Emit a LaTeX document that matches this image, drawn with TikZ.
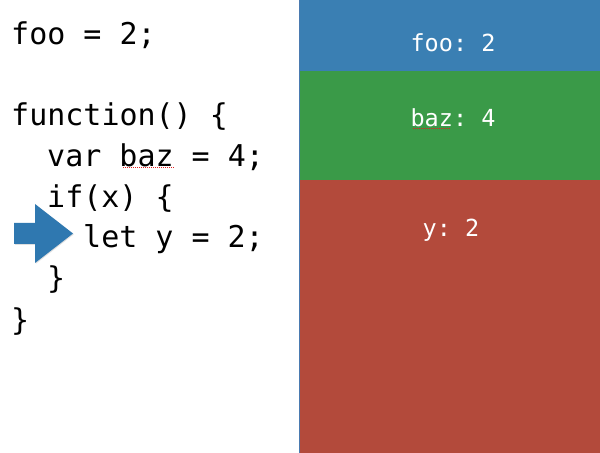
\documentclass[tikz,border=0pt]{standalone}
\usepackage{fontspec}
\setmonofont{DejaVu Sans Mono}
\usetikzlibrary{shadows}
\definecolor{frameblue}{HTML}{3A7FB3}
\definecolor{framegreen}{HTML}{3A9A48}
\definecolor{framered}{HTML}{B34A3B}
\definecolor{edgeblue}{HTML}{4A7AB0}
\definecolor{arrowblue}{HTML}{2F78B0}
\definecolor{squiggle}{HTML}{E02020}
\begin{document}
\begin{tikzpicture}[x=1bp,y=-1bp,
  codeline/.style={anchor=base west,inner sep=0pt,
    font=\ttfamily\fontsize{30bp}{41bp}\selectfont},
  slotlabel/.style={anchor=base,inner sep=0pt,text=white,
    font=\ttfamily\fontsize{23.5bp}{28bp}\selectfont},
  spell/.style={squiggle,line width=1bp,dash pattern=on 1.2bp off 0.8bp}]
\useasboundingbox (0,0) rectangle (600,453);
\fill[white] (0,0) rectangle (600,453);

% stack frames
\fill[frameblue]  (300,0)   rectangle (600,71);
\fill[framegreen] (300,71)  rectangle (600,180);
\fill[framered]   (300,180) rectangle (600,453);
\draw[edgeblue,line width=1.2bp] (299.6,0) -- (299.6,453);

\node[slotlabel] (sfoo) at (453,52)  {foo: 2};
\node[slotlabel] (sbaz) at (453,126.5) {baz: 4};
\node[slotlabel] (sy)   at (451,237) {y: 2};
\draw[spell] (413,129) -- (450,129);

% source code
\def\adv{18}
\node[codeline] (l1) at (11,45)  {foo = 2;};
\node[codeline] (l3) at (11,126) {function() \{};
\node[codeline] (l4) at (11+2*\adv,167) {var baz = 4;};
\node[codeline] (l5) at (11+2*\adv,208) {if(x) \{};
\node[codeline] (l6) at (11+4*\adv,248) {let y = 2;};
\node[codeline] (l7) at (11+2*\adv,289) {\}};
\node[codeline] (l8) at (11,330) {\}};
\draw[spell] (123,168) -- (174,168);

% current line marker
\fill[arrowblue,drop shadow={opacity=0.25,shadow xshift=0.8bp,shadow yshift=-0.8bp}]
  (14,223) -- (35,223) -- (35,204) -- (73,233.5) -- (35,263) -- (35,244) -- (14,244) -- cycle;
\end{tikzpicture}
\end{document}
